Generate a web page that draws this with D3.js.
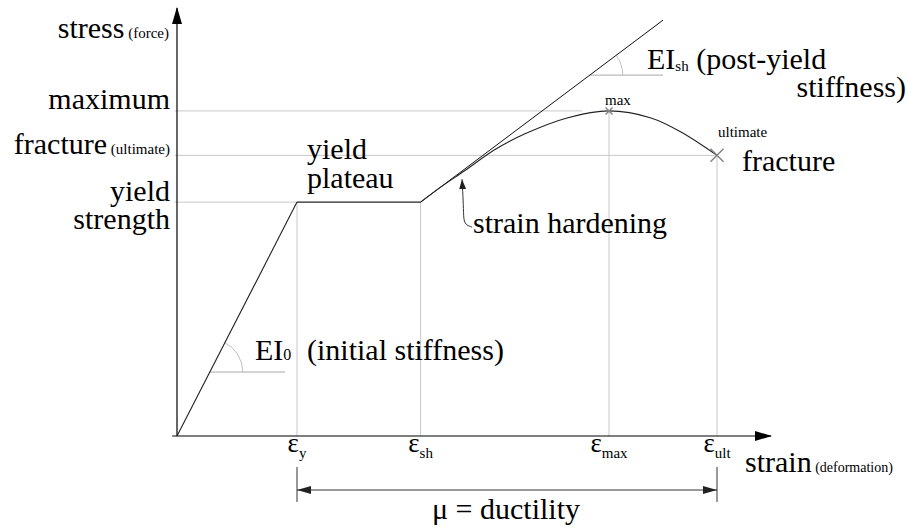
<!DOCTYPE html>
<html>
<head>
<meta charset="utf-8">
<script src="https://cdn.jsdelivr.net/npm/d3@7"></script>
</head>
<body style="margin:0">
<svg id="chart" width="908" height="529"></svg>
<script>
// Idealised stress-strain curve of a ductile material (normalised units:
// strain in multiples of the yield strain, stress in multiples of yield stress).

// Key strains along the horizontal axis
const strainTicks = [1.0, 2.03, 3.6, 4.5];
const strainSubs  = ["y", "sh", "max", "ult"];

// Key stress levels along the vertical axis
const stressLevels = [1.0, 1.2, 1.39];
const stressLabels = [["yield", "strength"], ["fracture", "(ultimate)"], ["maximum"]];

// Elastic branch
const elasticStrain = [0, 1.0];
const elasticStress = [0, 1.0];

// Yield plateau
const plateauStrain = [1.0, 2.03];
const plateauStress = [1.0, 1.0];

// Strain-hardening branch up to fracture
const hardeningStrain = [2.03, 2.2, 2.4, 2.65, 2.9, 3.25, 3.6, 3.95, 4.2, 4.5];
const hardeningStress = [1.0, 1.065, 1.135, 1.225, 1.292, 1.36, 1.39, 1.36, 1.30, 1.2];

// Post-yield stiffness tangent
const tangentStrain = [2.03, 4.05];
const tangentStress = [1.0, 1.778];

// Axis extents
const strainMax = 4.95;
const stressMax = 1.83;

const FONT = '"Liberation Serif"';

const svg = d3.select("#chart");
const x = d3.scaleLinear().domain([0, strainMax]).range([177, 771]);
const y = d3.scaleLinear().domain([0, stressMax]).range([436, 8]);

const zip = (a, b) => a.map((v, i) => [v, b[i]]);
const line = d3.line().x(d => x(d[0])).y(d => y(d[1]));

// Plain single-run label
function word(px, py, size, str, anchor) {
  return svg.append("text").attr("x", px).attr("y", py)
    .attr("font-family", FONT).attr("font-size", size)
    .attr("text-anchor", anchor || "start").text(str);
}
// Label made of runs with different sizes / offsets
function runs(px, py, parts, anchor) {
  const t = svg.append("text").attr("x", px).attr("y", py)
    .attr("font-family", FONT).attr("text-anchor", anchor || "start");
  parts.forEach(p => {
    const s = t.append("tspan").attr("font-family", FONT).attr("font-size", p.size).text(p.text);
    if (p.dx != null) s.attr("dx", p.dx);
    if (p.dy != null) s.attr("dy", p.dy);
    if (p.x != null) s.attr("x", p.x);
  });
  return t;
}

// Arrowhead markers
const defs = svg.append("defs");
defs.append("marker")
  .attr("id", "axisArrow").attr("viewBox", "0 -5 17 10")
  .attr("refX", 16).attr("refY", 0)
  .attr("markerWidth", 17).attr("markerHeight", 10)
  .attr("markerUnits", "userSpaceOnUse").attr("orient", "auto")
  .append("path").attr("d", "M0,-5L17,0L0,5Z").attr("fill", "#000");
defs.append("marker")
  .attr("id", "dimArrow").attr("viewBox", "0 -4 14 8")
  .attr("refX", 14).attr("refY", 0)
  .attr("markerWidth", 14).attr("markerHeight", 8)
  .attr("markerUnits", "userSpaceOnUse").attr("orient", "auto-start-reverse")
  .append("path").attr("d", "M0,-4L14,0L0,4Z").attr("fill", "#222");
defs.append("marker")
  .attr("id", "noteArrow").attr("viewBox", "0 -3.5 10 7")
  .attr("refX", 10).attr("refY", 0)
  .attr("markerWidth", 10).attr("markerHeight", 7)
  .attr("markerUnits", "userSpaceOnUse").attr("orient", "auto")
  .append("path").attr("d", "M0,-3.5L10,0L0,3.5Z").attr("fill", "#222");

// Guide lines (light grey)
const guides = svg.append("g").attr("stroke", "#c8c8c8").attr("stroke-width", 1).attr("fill", "none");
const hEnds = [strainTicks[0], strainTicks[3], 3.375];
stressLevels.forEach((s, i) => {
  guides.append("line")
    .attr("x1", x(-0.02)).attr("x2", x(hEnds[i]))
    .attr("y1", y(s)).attr("y2", y(s));
});
const vTops = [1.0, 1.0, 1.39, 1.2];
strainTicks.forEach((e, i) => {
  guides.append("line")
    .attr("x1", x(e)).attr("x2", x(e))
    .attr("y1", y(vTops[i])).attr("y2", y(0));
});

// Stiffness angle indicators
function angleMark(px, py, len, thetaDeg) {
  const cx = x(px), cy = y(py);
  guides.append("line").attr("x1", cx).attr("y1", cy).attr("x2", cx + len).attr("y2", cy)
    .attr("stroke", "#aaa");
  const r = 33, t = thetaDeg * Math.PI / 180;
  const p = d3.path();
  p.moveTo(cx + r, cy);
  p.arc(cx, cy, r, 0, -t, true);
  guides.append("path").attr("d", p.toString()).attr("stroke", "#c0c0c0");
}
const elasticAngle = Math.atan2(y(0) - y(1), x(1) - x(0)) * 180 / Math.PI;
const tangentAngle = Math.atan2(y(tangentStress[0]) - y(tangentStress[1]),
                                x(tangentStrain[1]) - x(tangentStrain[0])) * 180 / Math.PI;
angleMark(0.2735, 0.2735, x(0.9) - x(0.2735), elasticAngle);
const shY = 1.543;
const shX = tangentStrain[0] + (shY - tangentStress[0]) * (tangentStrain[1] - tangentStrain[0]) / (tangentStress[1] - tangentStress[0]);
angleMark(shX, shY, x(tangentStrain[1]) - x(shX), tangentAngle);

// Axes: tick positions come from d3 axes (no tick marks, no domain line);
// the labels are placed at those tick positions.
const xAxisG = svg.append("g").attr("transform", `translate(0,${y(0)})`)
  .call(d3.axisBottom(x).tickValues(strainTicks).tickSize(0).tickFormat(() => ""));
xAxisG.select(".domain").remove();
xAxisG.selectAll(".tick text").remove();
xAxisG.selectAll(".tick").each(function(d, i) {
  runs(x(d), y(0) + 16, [
    { text: "ε", size: 27 },
    { text: strainSubs[i], size: 15, dy: 6 }
  ], "middle");
});

const yAxisG = svg.append("g").attr("transform", `translate(${x(0)},0)`)
  .call(d3.axisLeft(y).tickValues(stressLevels).tickSize(0).tickFormat(() => ""));
yAxisG.select(".domain").remove();
yAxisG.selectAll(".tick text").remove();
yAxisG.selectAll(".tick").each(function(d, i) {
  const lab = stressLabels[i];
  const bx = x(0) - 7, by = y(d) - 1.5;
  if (i === 0) {
    word(bx, by, 30, lab[0], "end");
    word(bx, by + 28, 30, lab[1], "end");
  } else if (i === 1) {
    runs(bx, by, [{ text: lab[0], size: 30 }, { text: " " + lab[1], size: 15 }], "end");
  } else {
    word(bx, by, 30, lab[0], "end");
  }
});

// Axis lines with arrowheads
svg.append("line")
  .attr("x1", x(0)).attr("y1", y(0)).attr("x2", x(0)).attr("y2", y(stressMax))
  .attr("stroke", "#000").attr("stroke-width", 1.2).attr("marker-end", "url(#axisArrow)");
svg.append("line")
  .attr("x1", x(-0.04)).attr("y1", y(0)).attr("x2", x(strainMax)).attr("y2", y(0))
  .attr("stroke", "#000").attr("stroke-width", 1.2).attr("marker-end", "url(#axisArrow)");

// Axis titles
runs(169, 38, [{ text: "stress", size: 30 }, { text: " (force)", size: 15 }], "end");
runs(745, 472, [{ text: "strain", size: 30 }, { text: " (deformation)", size: 14 }]);

// Tangent for post-yield stiffness
svg.append("path").datum(zip(tangentStrain, tangentStress))
  .attr("d", line).attr("fill", "none").attr("stroke", "#111").attr("stroke-width", 1);

// Stress-strain curve
const curveG = svg.append("g").attr("fill", "none").attr("stroke", "#222").attr("stroke-width", 1.1);
curveG.append("path").datum(zip(elasticStrain, elasticStress)).attr("d", line);
curveG.append("path").datum(zip(plateauStrain, plateauStress)).attr("d", line);
curveG.append("path").datum(zip(hardeningStrain, hardeningStress))
  .attr("d", d3.line().x(d => x(d[0])).y(d => y(d[1])).curve(d3.curveCatmullRom.alpha(0.5)));

// Peak and fracture markers
function cross(sx, sy, h) {
  const cx = x(sx), cy = y(sy);
  svg.append("path")
    .attr("d", `M${cx - h},${cy - h}L${cx + h},${cy + h}M${cx - h},${cy + h}L${cx + h},${cy - h}`)
    .attr("stroke", "#808080").attr("stroke-width", 1.4).attr("fill", "none");
}
cross(strainTicks[2], stressLevels[2], 3.5);
cross(strainTicks[3], stressLevels[1], 6.5);
word(605, 105, 15, "max");
word(718, 137, 15, "ultimate");
word(742, 171, 30, "fracture");

// Region annotations
word(307, 159, 30, "yield");
word(307, 188, 30, "plateau");

runs(255, 360, [
  { text: "EI", size: 30 },
  { text: "0", size: 16 },
  { text: "(initial stiffness)", size: 30, x: 307 }
]);
runs(647, 69, [
  { text: "EI", size: 30 },
  { text: "sh", size: 15, dy: 2 },
  { text: " (post-yield", size: 30, dy: -2 }
]);
word(906, 97, 30, "stiffness)", "end");

// Strain-hardening callout
const notePts = [[2.458, 0.893], [2.392, 0.905], [2.388, 0.95], [2.383, 1.03], [2.375, 1.098]];
svg.append("path").datum(notePts)
  .attr("d", d3.line().x(d => x(d[0])).y(d => y(d[1])).curve(d3.curveBasis))
  .attr("fill", "none").attr("stroke", "#333").attr("stroke-width", 1)
  .attr("marker-end", "url(#noteArrow)");
word(473, 233, 30, "strain hardening");

// Ductility dimension
const dimY = 490;
const dimG = svg.append("g").attr("stroke", "#333").attr("stroke-width", 1);
[strainTicks[0], strainTicks[3]].forEach(e => {
  dimG.append("line").attr("x1", x(e)).attr("x2", x(e)).attr("y1", 467).attr("y2", 502);
});
dimG.append("line")
  .attr("x1", x(strainTicks[0])).attr("x2", x(strainTicks[3]))
  .attr("y1", dimY).attr("y2", dimY)
  .attr("marker-start", "url(#dimArrow)").attr("marker-end", "url(#dimArrow)");
word(432, 519, 30, "μ = ductility");
</script>
</body>
</html>
